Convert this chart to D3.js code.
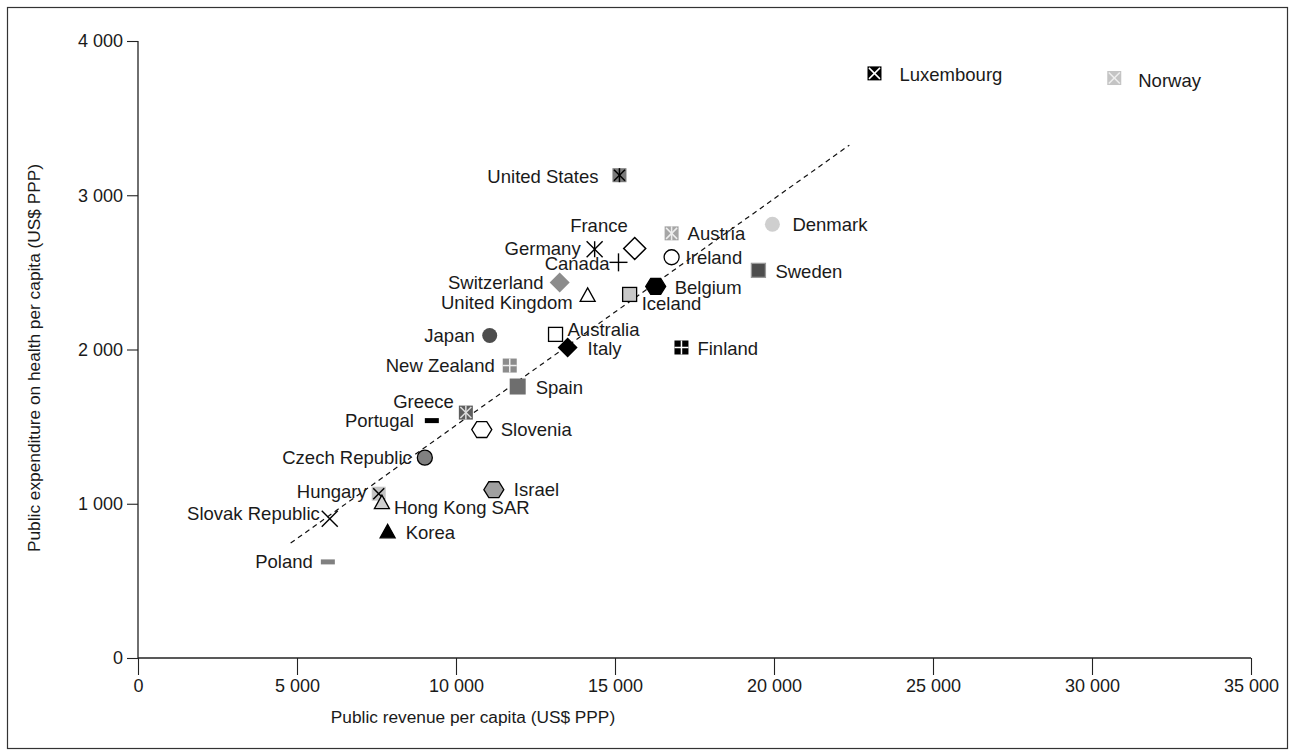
<!DOCTYPE html>
<html>
<head>
<meta charset="utf-8">
<script src="https://cdn.jsdelivr.net/npm/d3@7"></script>
<style>
  body { margin: 0; background: #fff; }
  svg text { font-family: "Liberation Sans", Arial, sans-serif; fill: #1a1a1a; }
</style>
</head>
<body>
<div id="chart"></div>
<script>
// data
var countries = ['Luxembourg', 'Norway', 'United States', 'France', 'Germany', 'Canada', 'Austria',
  'Ireland', 'Denmark', 'Sweden', 'Belgium', 'Iceland', 'Switzerland', 'United Kingdom', 'Japan',
  'Australia', 'Italy', 'Finland', 'New Zealand', 'Spain', 'Greece', 'Portugal', 'Slovenia',
  'Czech Republic', 'Israel', 'Hungary', 'Hong Kong SAR', 'Slovak Republic', 'Korea', 'Poland'];
var revenue = [23160, 30700, 15140, 15620, 14360, 15110, 16780,
  16780, 19950, 19510, 16280, 15460, 13260, 14140, 11060,
  13130, 13510, 17090, 11690, 11940, 10310, 9240, 10810,
  9020, 11190, 7570, 7670, 6030, 7850, 5970];
var expenditure = [3790, 3760, 3130, 2655, 2650, 2565, 2753,
  2598, 2812, 2513, 2409, 2357, 2435, 2351, 2091,
  2098, 2013, 2013, 1896, 1760, 1591, 1539, 1481,
  1299, 1091, 1065, 1007, 903, 818, 623];
var trendX = [4800, 22370];
var trendY = [745, 3325];
var xTicks = [0, 5000, 10000, 15000, 20000, 25000, 30000, 35000];
var yTicks = [0, 1000, 2000, 3000, 4000];

// marker look per country
var marks = {
  'Luxembourg':      {s: 'sq', fill: '#000', cross: 'x', cc: '#fff'},
  'Norway':          {s: 'sq', fill: '#c4c4c4', cross: 'x', cc: '#eee'},
  'United States':   {s: 'sq', fill: '#7a7a7a', cross: 'ast', cc: '#000'},
  'France':          {s: 'diamond', fill: '#fff', stroke: '#000', r: 11},
  'Germany':         {s: 'ast', stroke: '#000'},
  'Canada':          {s: 'plus', stroke: '#000'},
  'Austria':         {s: 'sq', fill: '#a6a6a6', cross: 'ast', cc: '#eee'},
  'Ireland':         {s: 'circle', fill: '#fff', stroke: '#000'},
  'Denmark':         {s: 'circle', fill: '#cfcfcf'},
  'Sweden':          {s: 'sq', fill: '#4d4d4d', stroke: '#999'},
  'Belgium':         {s: 'hex', fill: '#000', stroke: '#000'},
  'Iceland':         {s: 'sq', fill: '#c8c8c8', stroke: '#000'},
  'Switzerland':     {s: 'diamond', fill: '#8c8c8c', r: 10},
  'United Kingdom':  {s: 'tri', fill: '#fff', stroke: '#000'},
  'Japan':           {s: 'circle', fill: '#4d4d4d'},
  'Australia':       {s: 'sq', fill: '#fff', stroke: '#000'},
  'Italy':           {s: 'diamond', fill: '#000', r: 10},
  'Finland':         {s: 'sq', fill: '#000', cross: 'plus', cc: '#fff'},
  'New Zealand':     {s: 'sq', fill: '#8c8c8c', cross: 'plus', cc: '#eee'},
  'Spain':           {s: 'sq', fill: '#6e6e6e', big: true},
  'Greece':          {s: 'sq', fill: '#5e5e5e', cross: 'ast', cc: '#ddd'},
  'Portugal':        {s: 'dash', fill: '#000'},
  'Slovenia':        {s: 'hex', fill: '#fff', stroke: '#000'},
  'Czech Republic':  {s: 'circle', fill: '#808080', stroke: '#000'},
  'Israel':          {s: 'hex', fill: '#a0a0a0', stroke: '#000'},
  'Hungary':         {s: 'sq', fill: '#c4c4c4', cross: 'x', cc: '#000'},
  'Hong Kong SAR':   {s: 'tri', fill: '#d0d0d0', stroke: '#000'},
  'Slovak Republic': {s: 'x', stroke: '#000'},
  'Korea':           {s: 'tri', fill: '#000', stroke: '#000'},
  'Poland':          {s: 'dash', fill: '#808080'}
};

// label placement: dx, dy from marker, anchor
var labelPos = {
  'Luxembourg': [25, 1, 'start'], 'Norway': [24, 2, 'start'], 'United States': [-21, 1, 'end'],
  'France': [-7, -23, 'end'], 'Germany': [-14, -1, 'end'], 'Canada': [-9, 1, 'end'],
  'Austria': [16, 0, 'start'], 'Ireland': [14, 0, 'start'], 'Denmark': [20, 0, 'start'],
  'Sweden': [17, 1, 'start'], 'Belgium': [19, 1, 'start'], 'Iceland': [12, 9, 'start'],
  'Switzerland': [-16, 0, 'end'], 'United Kingdom': [-15, 7, 'end'], 'Japan': [-15, 0, 'end'],
  'Australia': [12, -5, 'start'], 'Italy': [20, 1, 'start'], 'Finland': [16, 1, 'start'],
  'New Zealand': [-15, 0, 'end'], 'Spain': [18, 1, 'start'], 'Greece': [-12, -11, 'end'],
  'Portugal': [-18, 0, 'end'], 'Slovenia': [19, 0, 'start'], 'Czech Republic': [-13, 0, 'end'],
  'Israel': [20, 0, 'start'], 'Hungary': [-12, -2, 'end'], 'Hong Kong SAR': [12, 5, 'start'],
  'Slovak Republic': [-10, -5, 'end'], 'Korea': [18, 1, 'start'], 'Poland': [-15, 0, 'end']
};

var W = 1292, H = 756;
var svg = d3.select('#chart').append('svg').attr('width', W).attr('height', H);

// outer frame
svg.append('rect').attr('x', 7.5).attr('y', 7.5).attr('width', 1280).attr('height', 741)
  .attr('fill', 'none').attr('stroke', '#333').attr('stroke-width', 1.2);

var x = d3.scaleLinear().domain([0, 35000]).range([138, 1251]);
var y = d3.scaleLinear().domain([0, 4000]).range([658, 41]);
var fmt = function(v){ return d3.format(',')(v).replace(/,/g, ' '); };

var xAxis = svg.append('g').attr('transform', 'translate(0,658)')
  .call(d3.axisBottom(x).tickValues(xTicks).tickSize(17).tickPadding(4).tickFormat(fmt));
var yAxis = svg.append('g').attr('transform', 'translate(138,0)')
  .call(d3.axisLeft(y).tickValues(yTicks).tickSize(11).tickPadding(4).tickFormat(fmt));
[xAxis, yAxis].forEach(function(a){
  a.select('.domain').attr('stroke', '#222').attr('stroke-width', 1.3);
  a.selectAll('.tick line').attr('stroke', '#222').attr('stroke-width', 1.1);
  a.selectAll('text').attr('font-size', 18).attr('fill', '#1a1a1a')
    .attr('font-family', '"Liberation Sans", Arial, sans-serif');
});
// clean axis ends
xAxis.select('.domain').attr('d', 'M138,0H1251');
yAxis.select('.domain').attr('d', 'M0,41V658');

svg.append('text').attr('x', 473).attr('y', 723).attr('text-anchor', 'middle')
  .attr('font-size', 17.3).text('Public revenue per capita (US$ PPP)');
svg.append('text').attr('transform', 'translate(40,358) rotate(-90)').attr('text-anchor', 'middle')
  .attr('font-size', 17.3).text('Public expenditure on health per capita (US$ PPP)');

// trend line
svg.append('line')
  .attr('x1', x(trendX[0])).attr('y1', y(trendY[0]))
  .attr('x2', x(trendX[1])).attr('y2', y(trendY[1]))
  .attr('stroke', '#111').attr('stroke-width', 1.2).attr('stroke-dasharray', '5,4');

var pts = countries.map(function(c, i){
  return {name: c, px: x(revenue[i]), py: y(expenditure[i]), m: marks[c], l: labelPos[c]};
});

var hexPath = function(r){
  var p = [];
  for (var k = 0; k < 6; k++){
    var a = Math.PI / 3 * k;
    p.push([r * Math.cos(a), r * 0.92 * Math.sin(a)]);
  }
  return 'M' + p.join('L') + 'Z';
};

var g = svg.selectAll('g.pt').data(pts).enter().append('g')
  .attr('class', 'pt')
  .attr('transform', function(d){ return 'translate(' + d.px + ',' + d.py + ')'; });

g.each(function(d){
  var el = d3.select(this), m = d.m, h;
  var sw = 1.3;
  if (m.s === 'sq'){
    h = m.big ? 8 : 7;
    el.append('rect').attr('x', -h).attr('y', -h).attr('width', 2 * h).attr('height', 2 * h)
      .attr('fill', m.fill).attr('stroke', m.stroke || 'none').attr('stroke-width', sw);
    if (m.cross){
      var k = h - 1.5, ln = [];
      if (m.cross === 'x' || m.cross === 'ast') ln.push([-k, -k, k, k], [-k, k, k, -k]);
      if (m.cross === 'ast') ln.push([0, -h, 0, h]);
      if (m.cross === 'plus') ln.push([0, -h, 0, h], [-h, 0, h, 0]);
      ln.forEach(function(l){
        el.append('line').attr('x1', l[0]).attr('y1', l[1]).attr('x2', l[2]).attr('y2', l[3])
          .attr('stroke', m.cc).attr('stroke-width', 1.5);
      });
    }
  } else if (m.s === 'circle'){
    el.append('circle').attr('r', 7.5).attr('fill', m.fill)
      .attr('stroke', m.stroke || 'none').attr('stroke-width', sw);
  } else if (m.s === 'diamond'){
    var r = m.r;
    el.append('path').attr('d', 'M0,' + (-r) + 'L' + r + ',0L0,' + r + 'L' + (-r) + ',0Z')
      .attr('fill', m.fill).attr('stroke', m.stroke || 'none').attr('stroke-width', 1.5);
  } else if (m.s === 'tri'){
    el.append('path').attr('d', 'M0,-7.5L7.5,6L-7.5,6Z')
      .attr('fill', m.fill).attr('stroke', m.stroke).attr('stroke-width', sw);
  } else if (m.s === 'hex'){
    el.append('path').attr('d', hexPath(10))
      .attr('fill', m.fill).attr('stroke', m.stroke).attr('stroke-width', sw);
  } else if (m.s === 'dash'){
    el.append('rect').attr('x', -7).attr('y', -2.5).attr('width', 14).attr('height', 5)
      .attr('fill', m.fill);
  } else {
    var s = 8, ls = [];
    if (m.s === 'x' || m.s === 'ast') ls.push([-s, -s, s, s], [-s, s, s, -s]);
    if (m.s === 'ast') ls.push([0, -s, 0, s]);
    if (m.s === 'plus') ls.push([-9, 0, 9, 0], [0, -9, 0, 9]);
    ls.forEach(function(l){
      el.append('line').attr('x1', l[0]).attr('y1', l[1]).attr('x2', l[2]).attr('y2', l[3])
        .attr('stroke', m.stroke).attr('stroke-width', 1.4);
    });
  }
});

g.append('text')
  .attr('x', function(d){ return d.l[0]; })
  .attr('y', function(d){ return d.l[1]; })
  .attr('dy', '0.35em')
  .attr('text-anchor', function(d){ return d.l[2]; })
  .attr('font-size', 18.5)
  .text(function(d){ return d.name; });
</script>
</body>
</html>
